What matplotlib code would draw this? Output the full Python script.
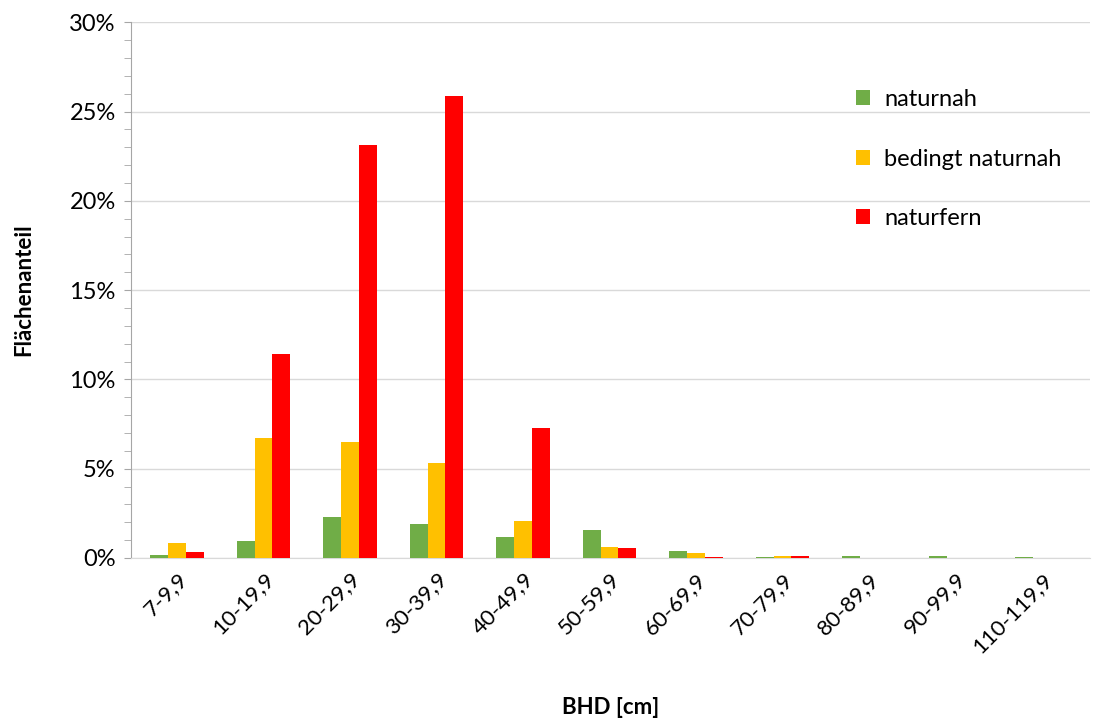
import numpy as np
import matplotlib.pyplot as plt
from matplotlib.ticker import MultipleLocator, PercentFormatter

plt.rcParams['font.family'] = ['Lato', 'DejaVu Sans']

# BHD classes and area share (%) per naturalness class
classes = ['7-9,9', '10-19,9', '20-29,9', '30-39,9', '40-49,9', '50-59,9',
           '60-69,9', '70-79,9', '80-89,9', '90-99,9', '110-119,9']
naturnah = [0.17, 0.97, 2.28, 1.89, 1.16, 1.55, 0.37, 0.03, 0.10, 0.10, 0.04]
bedingt = [0.82, 6.70, 6.50, 5.30, 2.09, 0.60, 0.28, 0.10, 0.0, 0.0, 0.0]
naturfern = [0.32, 11.45, 23.10, 25.85, 7.27, 0.54, 0.05, 0.10, 0.0, 0.0, 0.0]

series = [('naturnah', naturnah, '#70AD47'),
          ('bedingt naturnah', bedingt, '#FFC000'),
          ('naturfern', naturfern, '#FF0000')]

fig = plt.figure(figsize=(11.05, 7.19), dpi=100)
ax = fig.add_axes([0.1186, 0.224, 0.8675, 0.745])

x = np.arange(len(classes))
w = 0.205
for i, (name, vals, col) in enumerate(series):
    ax.bar(x + (i - 1) * w, vals, width=w, color=col, label=name, zorder=3)

ax.set_xlim(-0.53, len(classes) - 0.45)
ax.set_ylim(0, 30)
ax.yaxis.set_major_locator(MultipleLocator(5))
ax.yaxis.set_minor_locator(MultipleLocator(1))
ax.yaxis.set_major_formatter(PercentFormatter(decimals=0))
ax.grid(axis='y', color='#d9d9d9', linewidth=1, zorder=0)

ax.set_xticks(x)
ax.set_xticklabels(classes, rotation=45, ha='right', rotation_mode='anchor', fontsize=16)
ax.tick_params(axis='x', length=0, pad=8)
ax.tick_params(axis='y', which='major', labelsize=17, length=5, color='#a6a6a6', pad=6)
ax.tick_params(axis='y', which='minor', length=5, color='#a6a6a6')

for s in ['top', 'right']:
    ax.spines[s].set_visible(False)
ax.spines['left'].set_color('#a6a6a6')
ax.spines['bottom'].set_color('#d9d9d9')

ax.set_xlabel('BHD [cm]', fontsize=16, fontweight='bold', labelpad=29)
ax.set_ylabel('Flächenanteil', fontsize=16, fontweight='bold', labelpad=25)

ax.legend(loc='upper left', bbox_to_anchor=(0.734, 0.915), frameon=False,
          fontsize=17, handlelength=0.6, handleheight=0.6, handletextpad=0.6,
          labelspacing=1.63)

fig.savefig('out.png', dpi=100)
